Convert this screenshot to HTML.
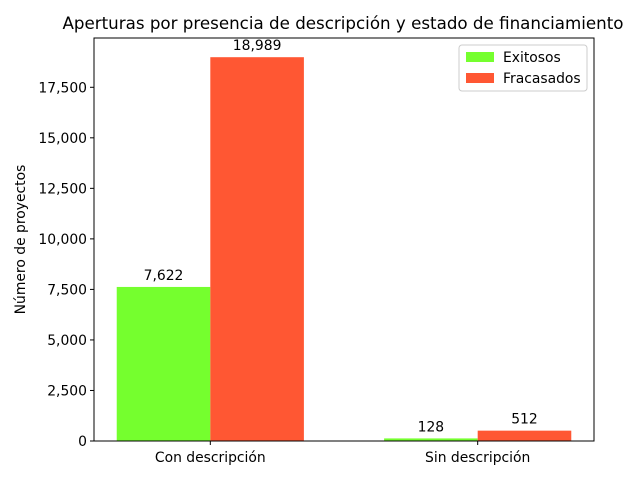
<!DOCTYPE html>
<html><head><meta charset="utf-8"><style>
body{margin:0;background:#fff;font-family:"DejaVu Sans","Liberation Sans",sans-serif;}
svg text{font-family:"DejaVu Sans","Liberation Sans",sans-serif;}
</style></head><body>
<svg id="chart" width="640" height="480" xmlns="http://www.w3.org/2000/svg">
<rect width="640" height="480" fill="#fff"/>
<text x="343" y="29" font-size="16.7" text-anchor="middle">Aperturas por presencia de descripción y estado de financiamiento</text>
<g id="plot"></g>
</svg>
<script>
const categories = ["Con descripción", "Sin descripción"];
const exitosos = [7622, 128];
const fracasados = [18989, 512];
const yTicks = [0, 2500, 5000, 7500, 10000, 12500, 15000, 17500];
const seriesNames = ["Exitosos", "Fracasados"];

const L=94,R=594,T=38,B=441, barW=0.35, FS=13.9;
const xmin=-0.435, xmax=categories.length-1+0.435;
const ymax=Math.max(...exitosos,...fracasados)*1.05;
const xs=v=>L+(v-xmin)/(xmax-xmin)*(R-L);
const ys=v=>B-v/ymax*(B-T);
const ns="http://www.w3.org/2000/svg";
const g=document.getElementById('plot');
function mk(tag,attrs,parent){const e=document.createElementNS(ns,tag);for(const k in attrs)e.setAttribute(k,attrs[k]);(parent||g).appendChild(e);return e;}
const fmt=v=>v.toLocaleString('en-US');
const colors=["#75ff2e","#ff5733"];
[exitosos,fracasados].forEach((arr,s)=>{
  arr.forEach((v,i)=>{
    const x0=xs(i+(s===0?-barW:0)), x1=xs(i+(s===0?0:barW));
    const r=mk('rect',{x:x0,y:ys(v),width:x1-x0,height:B-ys(v),fill:colors[s]});
    
    
    const t=mk('text',{x:(x0+x1)/2,y:ys(v)-7,'font-size':FS,'text-anchor':'middle'});
    t.textContent=fmt(v);
    
    
  });
});
yTicks.forEach(v=>{
  const y=ys(v);
  const l=mk('line',{x1:L-4,x2:L,y1:y,y2:y,stroke:'#000'});
  
  
  const t=mk('text',{x:L-7,y:y+5,'font-size':FS,'text-anchor':'end'});
  t.textContent=fmt(v);
  
  
});
categories.forEach((c,i)=>{
  const x=xs(i);
  const l=mk('line',{x1:x,x2:x,y1:B,y2:B+4,stroke:'#000'});
  
  
  const t=mk('text',{x:x,y:B+21,'font-size':FS,'text-anchor':'middle'});
  t.textContent=c;
  
  
});
const frame=mk('rect',{x:L,y:T,width:R-L,height:B-T,fill:'none',stroke:'#000','stroke-width':1});


const yl=mk('text',{x:0,y:0,'font-size':FS,'text-anchor':'middle',transform:`translate(25,${(T+B)/2}) rotate(-90)`});
yl.textContent="Número de proyectos";


const lg=mk('g',{});


mk('rect',{x:459,y:45,width:128,height:46,rx:3,fill:'#fff',stroke:'#ccc'},lg);
seriesNames.forEach((n,i)=>{
  const sw=mk('rect',{x:466,y:52+i*21,width:28,height:10,fill:colors[i]},lg);
  
  
  const t=mk('text',{x:503,y:62+i*21,'font-size':FS},lg);
  t.textContent=n;
  
  
});
</script>
</body></html>
